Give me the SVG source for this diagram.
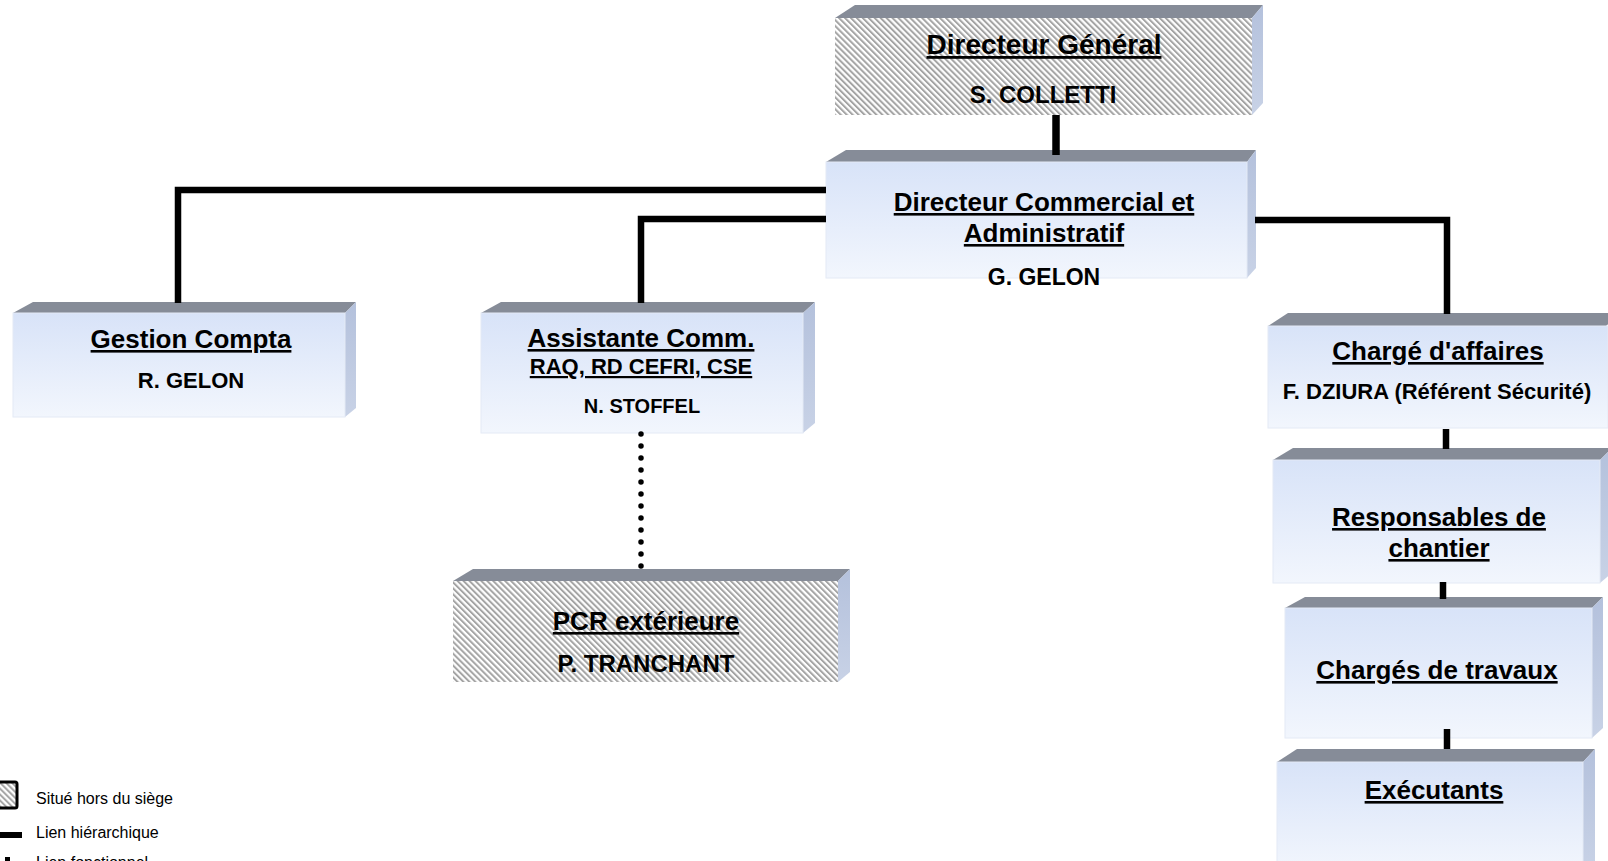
<svg xmlns="http://www.w3.org/2000/svg" width="1608" height="861" viewBox="0 0 1608 861">
<defs>
<linearGradient id="front" x1="0" y1="0" x2="0" y2="1">
<stop offset="0" stop-color="#d8e3f8"/>
<stop offset="1" stop-color="#f2f6fd"/>
</linearGradient>
<linearGradient id="sidegrad" x1="0" y1="0" x2="0" y2="1">
<stop offset="0" stop-color="#b4c1dc"/>
<stop offset="1" stop-color="#c8d2e6"/>
</linearGradient>
<pattern id="hatch" patternUnits="userSpaceOnUse" width="4.2" height="4.2" patternTransform="rotate(-45)">
<rect x="0" y="0" width="4.2" height="4.2" fill="#ffffff"/>
<rect x="0" y="0" width="2" height="4.2" fill="#a4a4a4"/>
</pattern>
</defs>
<style>
.top{fill:#868c98}
.side{fill:url(#sidegrad)}
.front{fill:url(#front);stroke:#e4eaf5;stroke-width:1}
.hfront{fill:url(#hatch)}
.t{font-family:"Liberation Sans",Arial,sans-serif;font-weight:bold;fill:#000;text-anchor:middle}
.u{text-decoration:underline}
.f26{font-size:26px}
.f28{font-size:28px}
.f24{font-size:24px}
.f23{font-size:23px}
.f22{font-size:22px}
.f20{font-size:20px}
.leg{font-family:"Liberation Sans",Arial,sans-serif;font-size:16px;fill:#000}
.ln{fill:none;stroke:#000;stroke-width:6.5}
</style>

<g id="dg">
<polygon class="top" points="835,18 855,5 1263,5 1252,18"/>
<polygon class="side" points="1252,18 1263,5 1263,103 1252,115"/>
<rect class="hfront" x="835" y="18" width="417" height="97"/>
<text class="t f28 u" x="1044" y="54">Directeur Général</text>
<text class="t f24" x="1043" y="103">S. COLLETTI</text>
</g>

<g id="dca">
<polygon class="top" points="826,162 846,150 1256,150 1247,162"/>
<polygon class="side" points="1247,162 1256,150 1256,268 1247,278"/>
<rect class="front" x="826" y="162" width="421" height="116"/>
<text class="t f26 u" x="1044" y="211">Directeur Commercial et</text>
<text class="t f26 u" x="1044" y="242">Administratif</text>
<text class="t f23" x="1044" y="285">G. GELON</text>
</g>

<g id="gc">
<polygon class="top" points="13,313 33,302 356,302 345,313"/>
<polygon class="side" points="345,313 356,302 356,408 345,417"/>
<rect class="front" x="13" y="313" width="332" height="104"/>
<text class="t f26 u" x="191" y="348">Gestion Compta</text>
<text class="t f22" x="191" y="388">R. GELON</text>
</g>

<g id="ac">
<polygon class="top" points="481,313 501,302 815,302 803,313"/>
<polygon class="side" points="803,313 815,302 815,423 803,433"/>
<rect class="front" x="481" y="313" width="322" height="120"/>
<text class="t f26 u" x="641" y="347">Assistante Comm.</text>
<text class="t f22 u" x="641" y="374">RAQ, RD CEFRI, CSE</text>
<text class="t f20" x="642" y="413">N. STOFFEL</text>
</g>

<g id="pcr">
<polygon class="top" points="453,581 473,569 850,569 838,581"/>
<polygon class="side" points="838,581 850,569 850,672 838,682"/>
<rect class="hfront" x="453" y="581" width="385" height="101"/>
<text class="t f26 u" x="646" y="630">PCR extérieure</text>
<text class="t f24" x="646" y="672">P. TRANCHANT</text>
</g>

<g id="ca">
<polygon class="top" points="1268,326 1288,313 1620,313 1606,326"/>
<rect class="front" x="1268" y="326" width="340" height="102"/>
<text class="t f26 u" x="1438" y="360">Chargé d'affaires</text>
<text class="t f22" x="1437" y="399">F. DZIURA (Référent Sécurité)</text>
</g>

<g id="resp">
<polygon class="top" points="1273,460 1293,448 1612,448 1600,460"/>
<polygon class="side" points="1600,460 1612,448 1612,573 1600,583"/>
<rect class="front" x="1273" y="460" width="327" height="123"/>
<text class="t f26 u" x="1439" y="526">Responsables de</text>
<text class="t f26 u" x="1439" y="557">chantier</text>
</g>

<g id="ct">
<polygon class="top" points="1285,608 1305,597 1603,597 1592,608"/>
<polygon class="side" points="1592,608 1603,597 1603,728 1592,738"/>
<rect class="front" x="1285" y="608" width="307" height="130"/>
<text class="t f26 u" x="1437" y="679">Chargés de travaux</text>
</g>

<g id="ex">
<polygon class="top" points="1277,762 1297,749 1595,749 1583,762"/>
<polygon class="side" points="1583,762 1595,749 1595,862 1583,870"/>
<rect class="front" x="1277" y="762" width="306" height="108"/>
<text class="t f26 u" x="1434" y="799">Exécutants</text>
</g>

<g id="connectors">
<line class="ln" x1="1056" y1="115" x2="1056" y2="155" style="stroke-width:7.5"/>
<polyline class="ln" points="826,190 178,190 178,303"/>
<polyline class="ln" points="826,219 641,219 641,303"/>
<polyline class="ln" points="1255,220 1447,220 1447,314"/>
<line class="ln" x1="1446" y1="429" x2="1446" y2="449"/>
<line class="ln" x1="1443" y1="582" x2="1443" y2="599"/>
<line class="ln" x1="1447" y1="729" x2="1447" y2="749"/>
<line x1="641" y1="434" x2="641" y2="567" stroke="#000" stroke-width="5.5" stroke-linecap="round" stroke-dasharray="0 12"/>
</g>

<g id="legend">
<rect x="-8" y="782" width="25" height="26" rx="2" fill="url(#hatch)" stroke="#000" stroke-width="3"/>
<text class="leg" x="36" y="804">Situé hors du siège</text>
<rect x="0" y="832" width="22" height="6" fill="#000"/>
<text class="leg" x="36" y="838">Lien hiérarchique</text>
<rect x="5" y="857" width="5" height="6" fill="#000"/>
<text class="leg" x="36" y="868">Lien fonctionnel</text>
</g>
</svg>
